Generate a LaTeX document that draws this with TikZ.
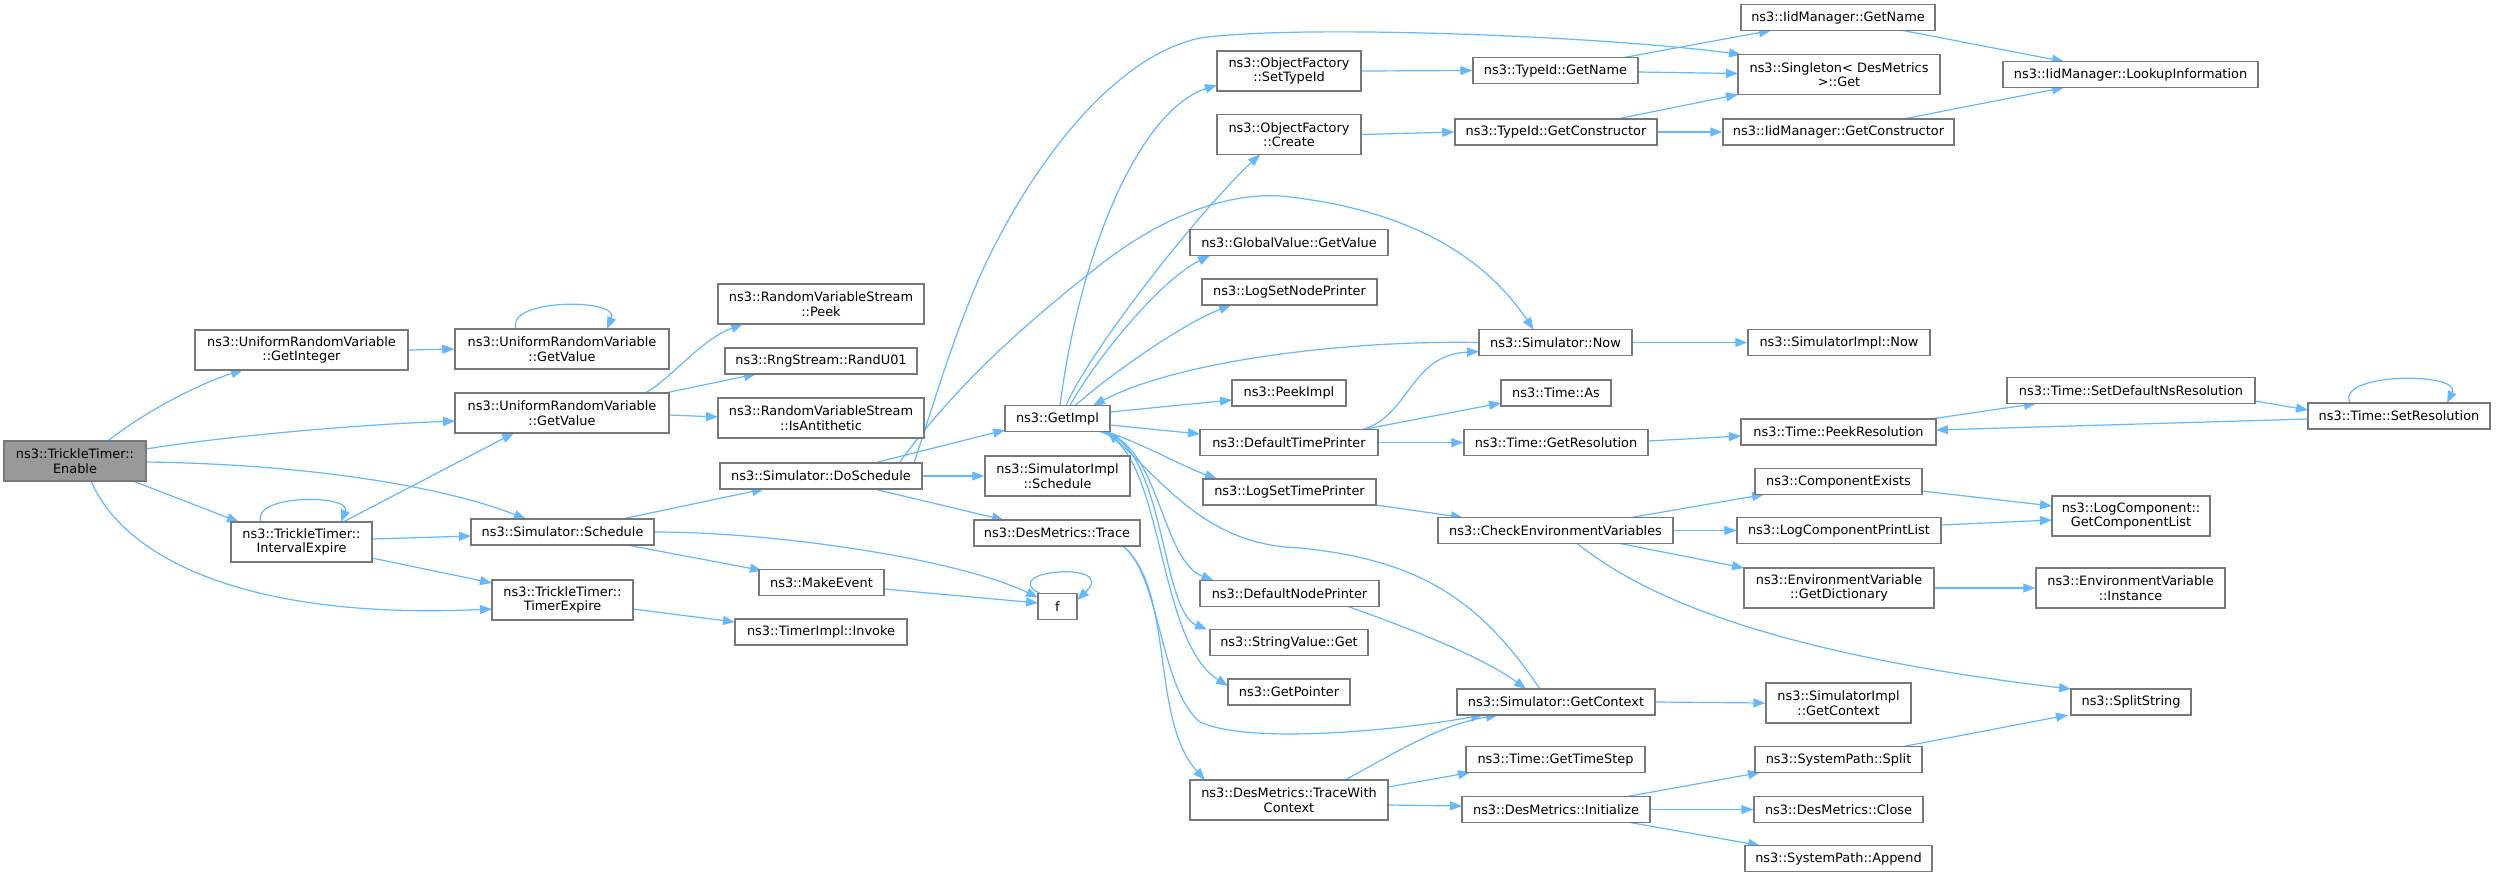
\documentclass[tikz,border=0pt]{standalone}
\usepackage{fontspec}
\setmainfont{DejaVu Sans}
\usetikzlibrary{arrows.meta,calc,backgrounds}
\definecolor{edgeblue}{RGB}{99,184,255}
\definecolor{nodegray}{RGB}{120,120,120}
\definecolor{rootgray}{RGB}{153,153,153}
\tikzset{
  nd/.style={draw=nodegray, line width=1.5pt, fill=white, inner sep=0pt, align=center,
    font=\fontsize{12.9}{14.5}\selectfont, minimum height=26pt},
  nd2/.style={nd, minimum height=40pt},
  cedge/.style={draw=edgeblue, line width=1.2pt, -{Triangle[length=12pt,width=9pt]}}
}
\begin{document}
\begin{tikzpicture}[x=1pt,y=-1pt]
\useasboundingbox (0,0) rectangle (2496,876);
% nodes
\node[nd2, minimum width=142pt, fill=rootgray] (enable) at (75,461) {ns3::TrickleTimer::\\Enable};
\node[nd2, minimum width=213pt] (getint) at (301.5,350) {ns3::UniformRandomVariable\\::GetInteger};
\node[nd2, minimum width=214pt] (urvgv1) at (562,349) {ns3::UniformRandomVariable\\::GetValue};
\node[nd2, minimum width=214pt] (urvgv2) at (562,413) {ns3::UniformRandomVariable\\::GetValue};
\node[nd2, minimum width=141pt] (intexp) at (301.5,542) {ns3::TrickleTimer::\\IntervalExpire};
\node[nd, minimum width=183pt] (simsched) at (562.5,532) {ns3::Simulator::Schedule};
\node[nd2, minimum width=141pt] (timexp) at (562.5,600) {ns3::TrickleTimer::\\TimerExpire};
\node[nd2, minimum width=206pt] (rvspeek) at (821,304) {ns3::RandomVariableStream\\::Peek};
\node[nd, minimum width=192pt] (randu01) at (821,361) {ns3::RngStream::RandU01};
\node[nd2, minimum width=206pt] (isanti) at (821,418) {ns3::RandomVariableStream\\::IsAntithetic};
\node[nd, minimum width=202pt] (dosched) at (821,476) {ns3::Simulator::DoSchedule};
\node[nd, minimum width=125pt] (makeevent) at (821.5,582.5) {ns3::MakeEvent};
\node[nd, minimum width=172pt] (timerinvoke) at (821,632) {ns3::TimerImpl::Invoke};
\node[nd, minimum width=105pt] (getimpl) at (1057.5,418.5) {ns3::GetImpl};
\node[nd2, minimum width=145pt] (simimplsched) at (1057.5,476) {ns3::SimulatorImpl\\::Schedule};
\node[nd, minimum width=166pt] (dmtrace) at (1057,533) {ns3::DesMetrics::Trace};
\node[nd, minimum width=39pt] (f) at (1057.5,606.5) {f};
\node[nd2, minimum width=144pt] (ofsettypeid) at (1289,71) {ns3::ObjectFactory\\::SetTypeId};
\node[nd2, minimum width=144pt] (ofcreate) at (1289,134.5) {ns3::ObjectFactory\\::Create};
\node[nd, minimum width=198pt] (gvgetvalue) at (1289,242.5) {ns3::GlobalValue::GetValue};
\node[nd, minimum width=175pt] (logsetnode) at (1289.5,292) {ns3::LogSetNodePrinter};
\node[nd, minimum width=114pt] (peekimpl) at (1289,393) {ns3::PeekImpl};
\node[nd, minimum width=178pt] (deftime) at (1289,442.5) {ns3::DefaultTimePrinter};
\node[nd, minimum width=173pt] (logsettime) at (1289.5,492) {ns3::LogSetTimePrinter};
\node[nd, minimum width=179pt] (defnode) at (1289.5,593.5) {ns3::DefaultNodePrinter};
\node[nd, minimum width=158pt] (strget) at (1289,642.5) {ns3::StringValue::Get};
\node[nd, minimum width=122pt] (getpointer) at (1289,692) {ns3::GetPointer};
\node[nd2, minimum width=198pt] (tracewc) at (1289,800) {ns3::DesMetrics::TraceWith\\Context};
\node[nd, minimum width=194pt] (iidgetname) at (1838,17.5) {ns3::IidManager::GetName};
\node[nd2, minimum width=202pt] (singleton) at (1839,74.5) {ns3::Singleton< DesMetrics\\ >::Get};
\node[nd, minimum width=255pt] (lookup) at (2130.5,74.5) {ns3::IidManager::LookupInformation};
\node[nd, minimum width=165pt] (tidgetname) at (1555.5,70.5) {ns3::TypeId::GetName};
\node[nd, minimum width=202pt] (tidgetcons) at (1556,132) {ns3::TypeId::GetConstructor};
\node[nd, minimum width=231pt] (iidgetcons) at (1838.5,132) {ns3::IidManager::GetConstructor};
\node[nd, minimum width=153pt] (simnow) at (1555.5,342.5) {ns3::Simulator::Now};
\node[nd, minimum width=182pt] (simimplnow) at (1839,342.5) {ns3::SimulatorImpl::Now};
\node[nd, minimum width=110pt] (timeas) at (1556,393) {ns3::Time::As};
\node[nd, minimum width=184pt] (getres) at (1556,442.5) {ns3::Time::GetResolution};
\node[nd, minimum width=195pt] (peekres) at (1838.5,432) {ns3::Time::PeekResolution};
\node[nd, minimum width=248pt] (setdefns) at (2131,390.5) {ns3::Time::SetDefaultNsResolution};
\node[nd, minimum width=182pt] (setres) at (2399,416) {ns3::Time::SetResolution};
\node[nd, minimum width=167pt] (compexists) at (1838.5,481.5) {ns3::ComponentExists};
\node[nd, minimum width=235pt] (checkenv) at (1555.5,530.5) {ns3::CheckEnvironmentVariables};
\node[nd, minimum width=204pt] (logcpl) at (1839,530.5) {ns3::LogComponentPrintList};
\node[nd2, minimum width=158pt] (getcomplist) at (2131,516) {ns3::LogComponent::\\GetComponentList};
\node[nd2, minimum width=190pt] (getdict) at (1839,588) {ns3::EnvironmentVariable\\::GetDictionary};
\node[nd2, minimum width=189pt] (envinst) at (2130.5,588) {ns3::EnvironmentVariable\\::Instance};
\node[nd, minimum width=120pt] (splitstring) at (2131,702) {ns3::SplitString};
\node[nd, minimum width=198pt] (simgetctx) at (1556,702) {ns3::Simulator::GetContext};
\node[nd2, minimum width=145pt] (simimplgetctx) at (1838.5,703) {ns3::SimulatorImpl\\::GetContext};
\node[nd, minimum width=179pt] (gettimestep) at (1555.5,759.5) {ns3::Time::GetTimeStep};
\node[nd, minimum width=167pt] (spsplit) at (1838.5,759.5) {ns3::SystemPath::Split};
\node[nd, minimum width=188pt] (dminit) at (1556,809.5) {ns3::DesMetrics::Initialize};
\node[nd, minimum width=169pt] (dmclose) at (1838.5,809.5) {ns3::DesMetrics::Close};
\node[nd, minimum width=187pt] (spappend) at (1838.5,858.5) {ns3::SystemPath::Append};
% edges
\begin{pgfonlayer}{background}
\fill[white] (0,0) rectangle (2496,876);
% Enable
\draw[cedge] ($(enable)+(33,-20)$) .. controls (140,415) and (195,385) .. ($(getint)+(-58.5,20)$);
\draw[cedge] ($(enable)+(71,-12)$) .. controls (220,437) and (350,425) .. ($(urvgv2)+(-107,8)$);
\draw[cedge] ($(enable)+(71,1)$) .. controls (300,464) and (440,485) .. ($(simsched)+(-36.5,-13)$);
\draw[cedge] ($(enable)+(58,20)$) -- ($(intexp)+(-62.5,-20)$);
\draw[cedge] ($(enable)+(16,20)$) .. controls (125,560) and (250,620) .. ($(timexp)+(-70.5,9)$);
% GetInteger / GetValue
\draw[cedge] (getint.east) -- (urvgv1.west);
\draw[cedge] ($(urvgv1)+(-46,-20)$) .. controls (505,298) and (620,298) .. ($(urvgv1)+(45,-20)$);
\draw[cedge] ($(urvgv2)+(83,-20)$) .. controls (670,380) and (700,340) .. ($(rvspeek)+(-78,20)$);
\draw[cedge] ($(urvgv2)+(103,-20)$) -- ($(randu01)+(-65,13)$);
\draw[cedge] ($(urvgv2)+(107,2)$) -- ($(isanti)+(-103,-1)$);
% IntervalExpire
\draw[cedge] ($(intexp)+(41.5,-20)$) -- ($(urvgv2)+(-48,20)$);
\draw[cedge] ($(intexp)+(-40.5,-20)$) .. controls (250,494) and (352,494) .. ($(intexp)+(39.5,-20)$);
\draw[cedge] ($(intexp)+(70.5,-3)$) -- ($(simsched)+(-91.5,4)$);
\draw[cedge] ($(intexp)+(70.5,16)$) -- ($(timexp)+(-70.5,-17)$);
% Schedule
\draw[cedge] ($(simsched)+(59.5,-13)$) -- ($(dosched)+(-57,13)$);
\draw[cedge] ($(simsched)+(91.5,0)$) .. controls (780,532) and (960,560) .. ($(f)+(-19.5,-9)$);
\draw[cedge] ($(simsched)+(64.5,13)$) -- ($(makeevent)+(-59.5,-12)$);
\draw[cedge] ($(timexp)+(70.5,9)$) -- ($(timerinvoke)+(-86,-10)$);
\draw[cedge] ($(makeevent)+(62.5,6.5)$) -- ($(f)+(-19.5,-3.5)$);
\draw[cedge] ($(f)+(-17.5,-13)$) .. controls (995,570) and (1120,560) .. ($(f)+(19.5,-6.5)$);
% DoSchedule
\draw[cedge] ($(dosched)+(53,-13)$) -- ($(getimpl)+(-52.5,11.5)$);
\draw[cedge] (dosched.east) -- (simimplsched.west);
\draw[cedge] ($(dosched)+(53,13)$) -- ($(dmtrace)+(-53,-13)$);
\draw[cedge] ($(dosched)+(78,-13)$) .. controls (960,380) and (1030,320) .. (1100,265) .. controls (1170,210) and (1240,190) .. (1290,197) .. controls (1400,210) and (1480,250) .. ($(simnow)+(-22,-13)$);
\draw[cedge] ($(dosched)+(93,-13)$) .. controls (935,400) and (955,330) .. (985,265) .. controls (1040,150) and (1120,55) .. (1200,38) .. controls (1300,24) and (1600,36) .. ($(singleton)+(-98,-20)$);
% GetImpl
\draw[cedge] ($(getimpl)+(2.5,-13)$) .. controls (1080,250) and (1140,110) .. ($(ofsettypeid)+(-72,14)$);
\draw[cedge] ($(getimpl)+(8.5,-13)$) .. controls (1090,350) and (1200,210) .. ($(ofcreate)+(-29,20)$);
\draw[cedge] ($(getimpl)+(12.5,-13)$) .. controls (1095,360) and (1160,280) .. ($(gvgetvalue)+(-79,13)$);
\draw[cedge] ($(getimpl)+(17.5,-13)$) .. controls (1110,375) and (1180,325) .. ($(logsetnode)+(-58.5,13)$);
\draw[cedge] ($(getimpl)+(52.5,-6.5)$) -- ($(peekimpl)+(-57,7)$);
\draw[cedge] ($(getimpl)+(52.5,6.5)$) -- ($(deftime)+(-89,-8.5)$);
\draw[cedge] ($(getimpl)+(47.5,13)$) .. controls (1135,440) and (1180,465) .. ($(logsettime)+(-72.5,-13)$);
\draw[cedge] ($(getimpl)+(42.5,13)$) .. controls (1160,440) and (1160,560) .. ($(defnode)+(-76,-13)$);
\draw[cedge] ($(getimpl)+(42.5,13)$) .. controls (1165,440) and (1160,610) .. ($(strget)+(-82,-13)$);
\draw[cedge] ($(getimpl)+(42.5,13)$) .. controls (1165,450) and (1155,640) .. ($(getpointer)+(-61,-6)$);
% back edges into GetImpl
\draw[cedge] ($(simnow)+(-76.5,0)$) .. controls (1350,340) and (1180,360) .. ($(getimpl)+(35.5,-13)$);
\draw[cedge] ($(simgetctx)+(-16,-13)$) .. controls (1480,600) and (1420,560) .. (1300,548) .. controls (1210,545) and (1170,490) .. ($(getimpl)+(50,13)$);
% DefaultTimePrinter etc.
\draw[cedge] ($(deftime)+(74,-13)$) .. controls (1410,415) and (1410,355) .. ($(simnow)+(-76.5,9)$);
\draw[cedge] ($(deftime)+(74,-13)$) -- ($(timeas)+(-55,10)$);
\draw[cedge] (deftime.east) -- (getres.west);
\draw[cedge] (simnow.east) -- (simimplnow.west);
\draw[cedge] ($(getres)+(92,-1.5)$) -- ($(peekres)+(-97.5,4)$);
\draw[cedge] ($(peekres)+(92.5,-13)$) -- ($(setdefns)+(-95,13)$);
\draw[cedge] ($(setdefns)+(124,10.5)$) -- ($(setres)+(-91,-6)$);
\draw[cedge] ($(setres)+(-91,3)$) -- ($(peekres)+(97.5,-2)$);
\draw[cedge] ($(setres)+(-49,-13)$) .. controls (2335,372) and (2462,372) .. ($(setres)+(48,-13)$);
% top right
\draw[cedge] (ofsettypeid.east) -- (tidgetname.west);
\draw[cedge] (ofcreate.east) -- (tidgetcons.west);
\draw[cedge] ($(tidgetname)+(68.5,-13)$) -- ($(iidgetname)+(-67,13)$);
\draw[cedge] ($(tidgetname)+(82.5,1.5)$) -- ($(singleton)+(-101,-1)$);
\draw[cedge] ($(tidgetcons)+(61,-13)$) -- ($(singleton)+(-101,20)$);
\draw[cedge] (tidgetcons.east) -- (iidgetcons.west);
\draw[cedge] ($(iidgetname)+(65,13)$) -- ($(lookup)+(-66.5,-13)$);
\draw[cedge] ($(iidgetcons)+(64.5,-13)$) -- ($(lookup)+(-66.5,13)$);
% lower right
\draw[cedge] ($(logsettime)+(86.5,13)$) -- ($(checkenv)+(-92.5,-13)$);
\draw[cedge] ($(checkenv)+(75.5,-13)$) -- ($(compexists)+(-74.5,13)$);
\draw[cedge] (checkenv.east) -- (logcpl.west);
\draw[cedge] ($(checkenv)+(64.5,13)$) -- ($(getdict)+(-95,-20)$);
\draw[cedge] ($(checkenv)+(21.5,13)$) .. controls (1630,585) and (1740,650) .. ($(splitstring)+(-60,-13)$);
\draw[cedge] ($(compexists)+(83.5,9.5)$) -- ($(getcomplist)+(-79,-10)$);
\draw[cedge] ($(logcpl)+(102,-5.5)$) -- ($(getcomplist)+(-79,4)$);
\draw[cedge] (getdict.east) -- (envinst.west);
\draw[cedge] (simgetctx.east) -- (simimplgetctx.west);
\draw[cedge] ($(defnode)+(58.5,13)$) .. controls (1400,625) and (1480,655) .. ($(simgetctx)+(-30,-13)$);
\draw[cedge] ($(dmtrace)+(66,13)$) .. controls (1160,575) and (1160,690) .. (1200,722) .. controls (1250,745) and (1400,730) .. ($(simgetctx)+(-73,13)$);
\draw[cedge] ($(dmtrace)+(66,13)$) .. controls (1175,590) and (1150,720) .. ($(tracewc)+(-84,-20)$);
\draw[cedge] ($(tracewc)+(56,-20)$) .. controls (1400,750) and (1440,725) .. ($(simgetctx)+(-58,13)$);
\draw[cedge] ($(tracewc)+(99,-13)$) -- ($(gettimestep)+(-85.5,13)$);
\draw[cedge] ($(tracewc)+(99,5)$) -- ($(dminit)+(-94,-3.5)$);
\draw[cedge] ($(dminit)+(71,-13)$) -- ($(spsplit)+(-78.5,13)$);
\draw[cedge] (dminit.east) -- (dmclose.west);
\draw[cedge] ($(dminit)+(74,13)$) -- ($(spappend)+(-78.5,-13)$);
\draw[cedge] ($(spsplit)+(64.5,-13)$) -- ($(splitstring)+(-63,13)$);
\end{pgfonlayer}
\end{tikzpicture}
\end{document}
